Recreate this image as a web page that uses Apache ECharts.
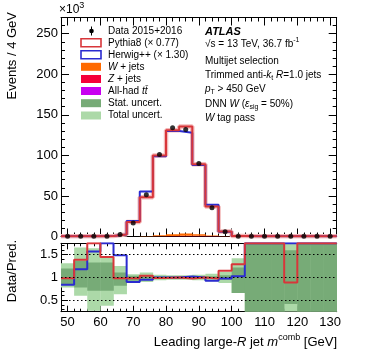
<!DOCTYPE html>
<html>
<head>
<meta charset="utf-8">
<script src="https://cdn.jsdelivr.net/npm/echarts@6/dist/echarts.min.js"></script>
<style>
html,body{margin:0;padding:0;background:#fff;}
#c{width:374px;height:359px;}
</style>
</head>
<body>
<div id="c"></div>
<script>
// ---------------- data ----------------
const binLow = [48,52,56,60,64,68,72,76,80,84,88,92,96,100,104,108,112,116,120,124,128];
const binWidth = 4;
// events (x10^3)
const dataEvents = [0.3,0.3,0.3,0.4,2.4,16.5,51.5,101,134,132,90,35.5,6.0,0.4,0.3,0.3,0.2,0.2,0.2,0.2,0.2];
const pythia     = [0.4,0.4,0.4,0.5,2.6,18,48.5,100,131,135.5,89,37,6.3,0.5,0.3,0.3,0.3,0.3,0.3,0.3,0.3];
const herwig     = [0.4,0.4,0.4,0.5,2.6,19,55.5,99,130,128,88,39,6.0,0.5,0.3,0.3,0.3,0.3,0.3,0.3,0.3];
const zjets      = [0,0,0,0,0,0,0.1,0.3,0.6,0.8,0.8,0.5,0.2,0,0,0,0,0,0,0,0];
const wjets      = [0,0,0,0,0,0,0.4,1.3,2.2,2.8,2.0,0.8,0.3,0,0,0,0,0,0,0,0];
const ttbar      = [0,0,0,0,0,0,0,0.05,0.1,0.1,0.1,0.05,0,0,0,0,0,0,0,0,0];
// ratio panel
const ratioPythia = [0.985,1.39,1.75,1.45,0.985,0.985,1.04,0.99,1.0,0.98,1.0,0.98,1.15,1.29,1.75,1.75,1.75,0.89,1.75,1.75,1.75];
const ratioHerwig = [0.84,1.18,1.57,1.75,1.49,0.9,0.95,1.0,1.0,1.02,1.0,0.93,0.98,1.03,1.75,1.75,1.75,1.75,1.75,1.75,1.75];
const statLo  = [0.85,0.78,0.71,0.71,0.82,0.93,0.96,0.98,0.98,0.98,0.98,0.97,0.95,0.66,0.25,0.25,0.25,0.42,0.25,0.25,0.25];
const statHi  = [1.20,1.36,1.33,1.33,1.11,1.04,1.04,1.02,1.02,1.02,1.02,1.03,1.05,1.22,1.75,1.75,1.75,1.60,1.75,1.75,1.75];
const totLo   = [0.78,0.60,0.27,0.38,0.63,0.89,0.90,0.94,0.95,0.95,0.94,0.92,0.88,0.66,0.25,0.25,0.25,0.25,0.25,0.25,0.25];
const totHi   = [1.31,1.66,1.64,1.44,1.25,1.07,1.11,1.06,1.05,1.05,1.06,1.08,1.12,1.42,1.75,1.75,1.75,1.75,1.75,1.75,1.75];
// ticks
const xMajorTicks = [50,60,70,80,90,100,110,120,130];
const mainYMax = 270;
const ratioMajorTicks = [0.5,1,1.5];
const ratioMinorTicks = [0.3,0.4,0.6,0.7,0.8,0.9,1.1,1.2,1.3,1.4,1.6,1.7];
const ratioRefLines = [0.5,1,1.5];
// text
const legendItems = [
  'Data 2015+2016',
  'Pythia8 (× 0.77)',
  'Herwig++ (× 1.30)',
  '{i|W} + jets',
  '{i|Z} + jets',
  'All-had {i|tt̄}',
  'Stat. uncert.',
  'Total uncert.'
];
const atlasLines = [
  '√s = 13 TeV, 36.7 fb{sup|-1}',
  'Multijet selection',
  'Trimmed anti-{i|k}{sub|t} {i|R}=1.0 jets',
  '{i|p}{sub|T} > 450 GeV',
  'DNN {i|W} ({i|ε}{sub|sig} = 50%)',
  '{i|W} tag pass'
];

// ---------------- styling ----------------
const FONT = '"Liberation Sans", Arial, sans-serif';
const C_RED = '#d8363a', C_BLUE = '#2b2bd0', C_W = '#ff6a00', C_Z = '#f5003a', C_TT = '#c800f0';
const C_STAT = '#77ab77', C_TOT = '#acd9a8', C_HALO = '#f3b9b9';
const lastEdge = binLow[binLow.length-1] + binWidth;
function stepData(vals){ const d = binLow.map((x,i)=>[x, vals[i]]); d.push([lastEdge, vals[vals.length-1]]); return d; }
const bandData = (lo,hi)=>binLow.map((x,i)=>[x, x+binWidth, lo[i], hi[i]]);
const black = {color:'#000', width:1};

function xAx(grid, pos, major, withLabels, len){
  const a = {gridIndex:grid, type:'value', min:48, max:132, position:pos,
    axisLine:{show:major, onZero:false, lineStyle:black},
    axisTick:{show:true, inside:true, length:len, lineStyle:black},
    axisLabel:{show:withLabels, fontFamily:FONT, fontSize:13, color:'#000', margin:4},
    splitLine:{show:false}, axisPointer:{show:false}};
  if (major){ a.axisTick.customValues = xMajorTicks; a.axisLabel.customValues = xMajorTicks; }
  else { a.interval = 2; }
  return a;
}
const xAxes = [
  xAx(0,'bottom',true,false,8), xAx(0,'bottom',false,false,4),
  xAx(0,'top',true,false,8), xAx(0,'top',false,false,4),
  xAx(1,'bottom',true,true,6), xAx(1,'bottom',false,false,3),
  xAx(1,'top',true,false,6), xAx(1,'top',false,false,3)
];
function yMain(pos, labels){
  return {gridIndex:0, type:'value', min:0, max:mainYMax, interval:50, position:pos,
    axisLine:{show:true, onZero:false, lineStyle:black},
    axisTick:{show:true, inside:true, length:8, lineStyle:black},
    minorTick:{show:true, splitNumber:5, length:4, lineStyle:black},
    axisLabel:{show:labels, showMaxLabel:false, fontFamily:FONT, fontSize:13, color:'#000', margin:3},
    splitLine:{show:false}, axisPointer:{show:false}};
}
function yRatio(pos, major, labels){
  return {gridIndex:1, type:'value', min:0.25, max:1.75, position:pos,
    axisLine:{show:major, onZero:false, lineStyle:black},
    axisTick:{show:true, inside:true, length: major?7:3.5, lineStyle:black, customValues: major?ratioMajorTicks:ratioMinorTicks},
    axisLabel:{show:labels, fontFamily:FONT, fontSize:13, color:'#000', margin:3, customValues: ratioMajorTicks, formatter:v=>String(+v.toFixed(2))},
    splitLine:{show:false}, axisPointer:{show:false}};
}
const yAxes = [
  yMain('left',true), yMain('right',false),
  yRatio('left',true,true), yRatio('left',false,false),
  yRatio('right',true,false), yRatio('right',false,false)
];

function rectItem(api, x0, x1, lo, hi, color){
  const p0 = api.coord([x0, hi]);
  const p1 = api.coord([x1, lo]);
  return {type:'rect', shape:{x:p0[0], y:p0[1], width:p1[0]-p0[0]+0.3, height:p1[1]-p0[1]}, style:{fill:color}};
}
function bandSeries(name, lo, hi, color){
  return {name, type:'custom', xAxisIndex:4, yAxisIndex:2, clip:true, silent:true, z:2,
    data: bandData(lo,hi),
    renderItem:(params, api)=>rectItem(api, api.value(0), api.value(1), api.value(2), api.value(3), color)};
}
const bkgStack = [[zjets, C_Z],[wjets, C_W],[ttbar, C_TT]];
const bkgSeries = {name:'bkg', type:'custom', xAxisIndex:0, yAxisIndex:0, clip:true, silent:true, z:2,
  data: binLow.map((x,i)=>[x, x+binWidth, i]),
  renderItem:(params, api)=>{
    const x0 = api.value(0), x1 = api.value(1), i = api.value(2);
    let base = 0; const children = [];
    bkgStack.forEach(([vals,color])=>{
      const v = vals[i];
      if (v > 0) children.push(rectItem(api, x0, x1, base, base+v, color));
      base += v;
    });
    return {type:'group', children};
  }};
function lineSeries(name, vals, color, xi, yi, w, z){
  return {name, type:'line', xAxisIndex:xi, yAxisIndex:yi, step:'end', symbol:'none', clip:true,
    data: stepData(vals), lineStyle:{color, width:w}, silent:true, z: z||3};
}

const series = [
  bkgSeries,
  lineSeries('PythiaHalo', pythia, C_HALO, 0, 0, 4.5, 2),
  lineSeries('Herwig', herwig, C_BLUE, 0, 0, 2),
  lineSeries('Pythia', pythia, C_RED, 0, 0, 2),
  {name:'Data', type:'scatter', xAxisIndex:0, yAxisIndex:0, symbol:'circle', symbolSize:5,
   itemStyle:{color:'#000'}, data: binLow.map((x,i)=>[x+binWidth/2, dataEvents[i]]), z:5, silent:true},
  bandSeries('Total', totLo, totHi, C_TOT),
  bandSeries('Stat', statLo, statHi, C_STAT),
  lineSeries('HerwigR', ratioHerwig, C_BLUE, 4, 2, 2),
  Object.assign(lineSeries('PythiaR', ratioPythia, C_RED, 4, 2, 2), {
    markLine:{silent:true, symbol:'none', label:{show:false}, lineStyle:{type:[1.5,2.5], color:'#000', width:1},
      data: ratioRefLines.map(v=>({yAxis:v})), animation:false}
  })
];

// ---------------- graphics (legend + labels) ----------------
const rich = {
  i:{fontStyle:'italic', fontFamily:FONT, fontSize:10, fill:'#000'},
  sup:{fontFamily:FONT, fontSize:7, padding:[0,0,7,0], fill:'#000'},
  sub:{fontFamily:FONT, fontSize:7, padding:[6,0,0,0], fill:'#000'}
};
const legendRowY = [31, 42.8, 54.8, 66.8, 79, 91, 103.2, 115.5];
const graphics = [];
legendItems.forEach((t,i)=>{
  graphics.push({type:'text', x:108, y:legendRowY[i], z:10, style:{text:t, rich, fontFamily:FONT, fontSize:10, fill:'#000', verticalAlign:'middle'}});
});
graphics.push({type:'line', z:10, shape:{x1:91.5,y1:26.5,x2:91.5,y2:35.5}, style:{stroke:'#000', lineWidth:1}});
graphics.push({type:'circle', z:10, shape:{cx:91.5, cy:31, r:2.3}, style:{fill:'#000'}});
const boxStyles = [
  {fill:'#fff', stroke:C_RED, lineWidth:1.6},
  {fill:'#fff', stroke:C_BLUE, lineWidth:1.6},
  {fill:C_W}, {fill:C_Z}, {fill:C_TT}, {fill:C_STAT}, {fill:C_TOT}
];
boxStyles.forEach((s,k)=>{
  const y = legendRowY[k+1];
  graphics.push({type:'rect', z:10, shape:{x:81, y:y-4, width:20, height:8}, style:s});
});
const atlasY = [32.3, 44, 60.8, 75, 89.3, 103.8, 118];
graphics.push({type:'text', x:205, y:atlasY[0], z:10, style:{text:'ATLAS', fontFamily:FONT, fontSize:11, fontWeight:'bold', fontStyle:'italic', fill:'#000', verticalAlign:'middle'}});
atlasLines.forEach((t,i)=>{
  graphics.push({type:'text', x:205, y:atlasY[i+1], z:10, style:{text:t, rich, fontFamily:FONT, fontSize:10, fill:'#000', verticalAlign:'middle'}});
});
graphics.push({type:'text', x:59, y:10, style:{text:'×10{s|3}', rich:{s:{fontFamily:FONT, fontSize:9, padding:[0,0,8,0], fill:'#000'}}, fontFamily:FONT, fontSize:12, fill:'#000', verticalAlign:'middle'}});
graphics.push({type:'text', x:12, y:12, rotation:Math.PI/2, style:{text:'Events / 4 GeV', fontFamily:FONT, fontSize:13, fill:'#000', align:'right', verticalAlign:'middle'}});
graphics.push({type:'text', x:12, y:240, rotation:Math.PI/2, style:{text:'Data/Pred.', fontFamily:FONT, fontSize:13, fill:'#000', align:'right', verticalAlign:'middle'}});
graphics.push({type:'text', x:337, y:342, style:{text:'Leading large-{i|R} jet {i|m}{sup|comb} [GeV]', rich:{
  i:{fontStyle:'italic', fontFamily:FONT, fontSize:13, fill:'#000'},
  sup:{fontFamily:FONT, fontSize:9, padding:[0,0,9,0], fill:'#000'}
}, fontFamily:FONT, fontSize:13, fill:'#000', align:'right', verticalAlign:'middle'}});

const chart = echarts.init(document.getElementById('c'), null, {renderer:'canvas'});
chart.setOption({
  animation:false,
  backgroundColor:'#fff',
  grid:[
    {left:61, top:17.5, width:275.7, height:219, containLabel:false, outerBoundsMode:'none'},
    {left:61, top:243.3, width:275.7, height:68.4, containLabel:false, outerBoundsMode:'none'}
  ],
  xAxis:xAxes,
  yAxis:yAxes,
  series,
  graphic:graphics
});
</script>
</body>
</html>
